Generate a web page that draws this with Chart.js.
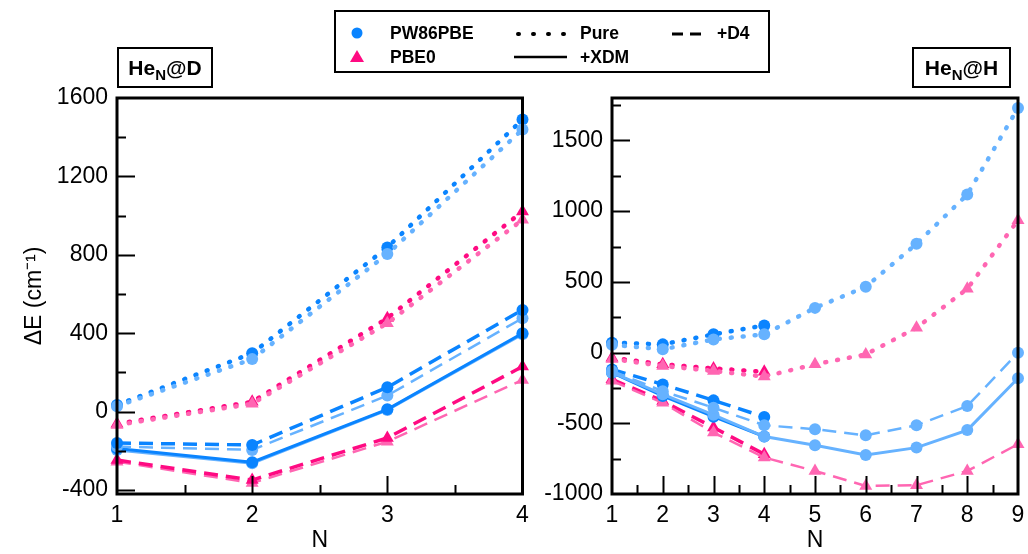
<!DOCTYPE html>
<html lang="en">
<head>
<meta charset="UTF-8">
<title>HeN@D / HeN@H interaction energies</title>
<script src="https://cdn.jsdelivr.net/npm/chart.js"></script>
<style>
    body {
        margin: 0;
        width: 1028px;
        height: 554px;
        background: white;
        position: relative;
        overflow: hidden;
        font-family: "Liberation Sans", Arial, sans-serif;
    }
    canvas { position: absolute; top: 0; }
    #left { left: 0; }
    #right { left: 530px; }
    .tag {
        position: absolute;
        top: 47px;
        height: 37px;
        border: 2px solid black;
        font-weight: bold;
        font-size: 21px;
        line-height: 37px;
        text-align: center;
    }
    .tag sub { font-size: 15px; vertical-align: -5px; line-height: 0; }
    .legend {
        position: absolute;
        left: 334px;
        top: 10px;
        width: 432px;
        height: 59px;
        border: 2.5px solid black;
        font-weight: bold;
        font-size: 17.5px;
    }
    .legend span { position: absolute; line-height: 20px; }
    .legend svg { position: absolute; left: 0; top: 0; }
</style>
</head>
<body>

<canvas id="left" width="530" height="554"></canvas>
<canvas id="right" width="498" height="554"></canvas>

<div class="tag" style="left:117px; width:92px;">He<sub>N</sub>@D</div>
<div class="tag" style="left:912px; width:95px;">He<sub>N</sub>@H</div>

<div class="legend">
    <svg width="432" height="59">
        <circle cx="21" cy="21" r="5.5" fill="#0a84ff"/>
        <polygon points="21,38 28,50 14,50" fill="#ff0a82"/>
        <line x1="182" y1="22" x2="228" y2="22" stroke="black" stroke-width="4" stroke-dasharray="1 14" stroke-linecap="round"/>
        <line x1="178" y1="45" x2="231" y2="45" stroke="black" stroke-width="2.5"/>
        <line x1="336" y1="22" x2="366" y2="22" stroke="black" stroke-width="3" stroke-dasharray="11 7"/>
    </svg>
    <span style="left:54px; top:11px;">PW86PBE</span>
    <span style="left:54px; top:35px;">PBE0</span>
    <span style="left:244px; top:11px;">Pure</span>
    <span style="left:244px; top:35px;">+XDM</span>
    <span style="left:381px; top:11px;">+D4</span>
</div>

<script>
    // N values
    const nLeft = [1, 2, 3, 4];
    const nRight = [1, 2, 3, 4, 5, 6, 7, 8, 9];

    // tick labels
    const yTicksLeft = [-400, 0, 400, 800, 1200, 1600];
    const yTicksRight = [-1000, -500, 0, 500, 1000, 1500];

    // He_N@D  (dark = first set, light = second set)
    const pwPureD = [34, 298, 838, 1490];
    const pwPureD2 = [28, 268, 804, 1439];
    const pbePureD = [-62, 50, 477, 1021];
    const pbePureD2 = [-68, 40, 451, 979];
    const pwD4D = [-160, -170, 124, 519];
    const pwD4D2 = [-178, -195, 82, 477];
    const pwXdmD = [-188, -258, 12, 400];
    const pwXdmD2 = [-195, -263, 9, 395];
    const pbeD4D = [-247, -349, -134, 230];
    const pbeD4D2 = [-255, -364, -153, 162];

    // He_N@H
    const pwPureH = [70, 58, 129, 192];
    const pwPureH2 = [55, 23, 93, 129, 316, 465, 769, 1117, 1729];
    const pbePureH = [-37, -83, -112, -136];
    const pbePureH2 = [-45, -95, -130, -170, -83, -13, 175, 451, 936];
    const pwD4H = [-119, -225, -338, -455];
    const pwD4H2 = [-130, -273, -390, -514, -542, -585, -514, -378, -2];
    const pwXdmH = [-142, -307, -453, -594];
    const pwXdmH2 = [-140, -295, -440, -594, -655, -724, -672, -548, -182];
    const pbeD4H = [-189, -342, -530, -719];
    const pbeD4H2 = [-200, -355, -566, -742, -837, -943, -938, -837, -648];

    const BLUE = '#0a84ff', BLUE2 = '#66b2ff';
    const PINK = '#ff0a82', PINK2 = '#ff66b2';
    const FONT = '"Liberation Sans", Arial, sans-serif';

    function pts(ns, ys) {
        return ys.map((y, i) => ({ x: ns[i], y: y }));
    }

    function series(ns, ys, color, kind, marker, light) {
        const ds = {
            data: pts(ns, ys),
            borderColor: color,
            backgroundColor: color,
            pointBackgroundColor: color,
            pointBorderWidth: 0,
            pointStyle: marker,
            pointRadius: marker === 'triangle' ? 7.5 : 6,
            clip: false,
            tension: 0,
            borderCapStyle: 'butt'
        };
        if (kind === 'pure') {
            ds.borderWidth = 4.5;
            ds.borderDash = [1, 11];
            ds.borderCapStyle = 'round';
        } else if (kind === 'd4') {
            ds.borderWidth = light ? 2.5 : 3.5;
            ds.borderDash = [14, 8];
        } else {
            ds.borderWidth = 3;
        }
        return ds;
    }

    // inward ticks + box frame
    const frame = {
        id: 'frame',
        afterDatasetsDraw(chart, args, o) {
            const { ctx, chartArea: a, scales } = chart;
            ctx.save();
            ctx.strokeStyle = 'black';
            ctx.lineWidth = 2;
            ctx.beginPath();
            for (let v = o.ymin; v <= o.ymax + 1e-6; v += 1) {
                if (Math.abs(v % o.yMinor) > 1e-6) continue;
                const y = Math.round(scales.y.getPixelForValue(v)) + 0.5;
                if (y < a.top + 2 || y > a.bottom - 2) continue;
                const major = Math.abs(v % o.yMajor) < 1e-6;
                ctx.moveTo(a.left, y);
                ctx.lineTo(a.left + (major ? 18 : 9), y);
            }
            for (let v = o.xmin; v <= o.xmax + 1e-6; v += 0.5) {
                const x = Math.round(scales.x.getPixelForValue(v)) + 0.5;
                if (x < a.left + 2 || x > a.right - 2) continue;
                const major = Math.abs(v - Math.round(v)) < 1e-6;
                ctx.moveTo(x, a.bottom);
                ctx.lineTo(x, a.bottom - (major ? 18 : 9));
            }
            ctx.stroke();
            ctx.lineWidth = 3;
            ctx.strokeRect(a.left, a.top, a.right - a.left, a.bottom - a.top);
            ctx.restore();
        }
    };

    function makeChart(id, cfg) {
        const tickFont = { family: FONT, size: 23 };
        return new Chart(document.getElementById(id), {
            type: 'line',
            data: { datasets: cfg.datasets },
            options: {
                responsive: false,
                animation: false,
                devicePixelRatio: 1,
                layout: { padding: { top: 98, right: cfg.padRight, bottom: 0, left: 0 } },
                plugins: {
                    legend: { display: false },
                    tooltip: { enabled: false },
                    frame: cfg.frame
                },
                scales: {
                    x: {
                        type: 'linear',
                        min: cfg.frame.xmin,
                        max: cfg.frame.xmax,
                        grid: { display: false, drawTicks: false },
                        border: { display: false },
                        ticks: { font: tickFont, color: 'black', padding: 8, callback: v => String(v) },
                        afterBuildTicks: s => { s.ticks = cfg.xs.map(v => ({ value: v })); },
                        afterFit: s => { s.height = 60; s.paddingLeft = 0; s.paddingRight = 0; },
                        title: {
                            display: true, text: 'N', color: 'black',
                            font: { family: FONT, size: 23 }, padding: 0
                        }
                    },
                    y: {
                        min: cfg.frame.ymin,
                        max: cfg.frame.ymax,
                        grid: { display: false, drawTicks: false },
                        border: { display: false },
                        ticks: { font: tickFont, color: 'black', padding: 9, callback: v => String(v) },
                        afterBuildTicks: s => { s.ticks = cfg.yTicks.map(v => ({ value: v })); },
                        afterFit: s => { s.width = cfg.yWidth; s.paddingTop = 0; s.paddingBottom = 0; },
                        title: cfg.yTitle
                    }
                }
            },
            plugins: [frame]
        });
    }

    makeChart('left', {
        xs: nLeft,
        yTicks: yTicksLeft,
        yWidth: 117,
        padRight: 7,
        frame: { xmin: 1, xmax: 4, ymin: -420, ymax: 1600, yMajor: 400, yMinor: 200 },
        yTitle: {
            display: true, text: 'ΔE (cm⁻¹)', color: 'black',
            font: { family: FONT, size: 23 }, padding: { top: 21 }
        },
        datasets: [
            series(nLeft, pwPureD2, BLUE2, 'pure', 'circle', true),
            series(nLeft, pwPureD, BLUE, 'pure', 'circle'),
            series(nLeft, pbePureD2, PINK2, 'pure', 'triangle', true),
            series(nLeft, pbePureD, PINK, 'pure', 'triangle'),
            series(nLeft, pwD4D, BLUE, 'd4', 'circle'),
            series(nLeft, pwD4D2, BLUE2, 'd4', 'circle', true),
            series(nLeft, pwXdmD, BLUE, 'xdm', 'circle'),
            series(nLeft, pwXdmD2, BLUE2, 'xdm', 'circle', true),
            series(nLeft, pbeD4D, PINK, 'd4', 'triangle'),
            series(nLeft, pbeD4D2, PINK2, 'd4', 'triangle', true)
        ]
    });

    makeChart('right', {
        xs: nRight,
        yTicks: yTicksRight,
        yWidth: 82,
        padRight: 10,
        frame: { xmin: 1, xmax: 9, ymin: -1000, ymax: 1800, yMajor: 500, yMinor: 250 },
        yTitle: { display: false },
        datasets: [
            series(nRight, pwPureH2, BLUE2, 'pure', 'circle', true),
            series(nLeft, pwPureH, BLUE, 'pure', 'circle'),
            series(nRight, pbePureH2, PINK2, 'pure', 'triangle', true),
            series(nLeft, pbePureH, PINK, 'pure', 'triangle'),
            series(nRight, pwD4H2, BLUE2, 'd4', 'circle', true),
            series(nLeft, pwD4H, BLUE, 'd4', 'circle'),
            series(nRight, pwXdmH2, BLUE2, 'xdm', 'circle', true),
            series(nLeft, pwXdmH, BLUE, 'xdm', 'circle'),
            series(nRight, pbeD4H2, PINK2, 'd4', 'triangle', true),
            series(nLeft, pbeD4H, PINK, 'd4', 'triangle')
        ]
    });
</script>
</body>
</html>
